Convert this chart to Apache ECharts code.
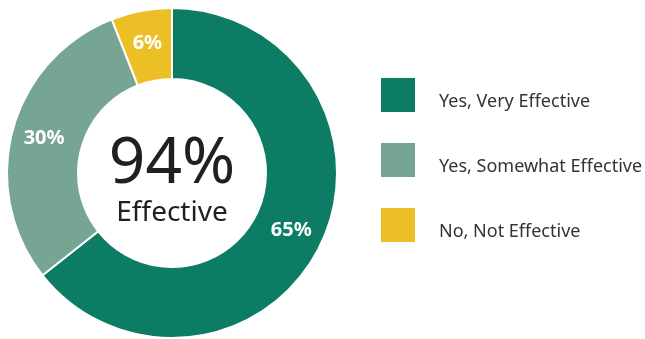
<!DOCTYPE html>
<html>
<head>
<meta charset="utf-8">
<script src="https://cdn.jsdelivr.net/npm/echarts@6/dist/echarts.min.js"></script>
<style>
  html, body { margin: 0; padding: 0; background: #fff; }
  #chart { width: 645px; height: 339px; }
</style>
</head>
<body>
<div id="chart"></div>
<script>
// Survey responses: share of respondents per answer
const categories = ['Yes, Very Effective', 'Yes, Somewhat Effective', 'No, Not Effective'];
const values = [65, 30, 6];
const colors = ['#0c7c64', '#76a594', '#ecbf26'];
const centerValue = '94%';
const centerLabel = 'Effective';

const FONT = '"Noto Sans", sans-serif';

const chart = echarts.init(document.getElementById('chart'), null, { renderer: 'canvas' });

chart.setOption({
  animation: false,
  backgroundColor: '#ffffff',
  legend: {
    orient: 'vertical',
    left: 379,
    top: 76,
    padding: 0,
    itemWidth: 36,
    itemHeight: 36,
    itemGap: 27,
    icon: 'rect',
    selectedMode: false,
    data: categories,
    formatter: name => '{t|' + name + '}',
    textStyle: {
      fontFamily: FONT,
      fontSize: 18,
      color: '#333333',
      rich: {
        t: {
          fontFamily: FONT,
          fontSize: 18,
          color: '#333333',
          padding: [14, 0, 0, 18]
        }
      }
    }
  },
  series: [
    {
      type: 'pie',
      center: [172, 173],
      radius: [94, 165],
      startAngle: 90,
      clockwise: true,
      silent: true,
      itemStyle: {
        borderColor: '#ffffff',
        borderWidth: 2
      },
      label: {
        show: true,
        position: 'inside',
        formatter: '{c}%',
        color: '#ffffff',
        fontFamily: FONT,
        fontSize: 20,
        fontWeight: 'bold'
      },
      labelLine: { show: false },
      data: categories.map((name, i) => ({
        name: name,
        value: values[i],
        itemStyle: { color: colors[i] }
      }))
    },
    {
      // centre caption drawn as an empty ring's label
      type: 'pie',
      center: [172, 173],
      radius: [0, 1],
      silent: true,
      itemStyle: { color: 'transparent' },
      label: {
        show: true,
        position: 'center',
        padding: [14, 0, 0, 0],
        formatter: '{a|' + centerValue + '}\n{b|' + centerLabel + '}',
        rich: {
          a: { fontFamily: FONT, fontSize: 64, color: '#231f20', lineHeight: 66 },
          b: { fontFamily: FONT, fontSize: 28, color: '#231f20', lineHeight: 30 }
        }
      },
      labelLine: { show: false },
      data: [{ value: 1, name: '' }]
    }
  ]
});
</script>
</body>
</html>
